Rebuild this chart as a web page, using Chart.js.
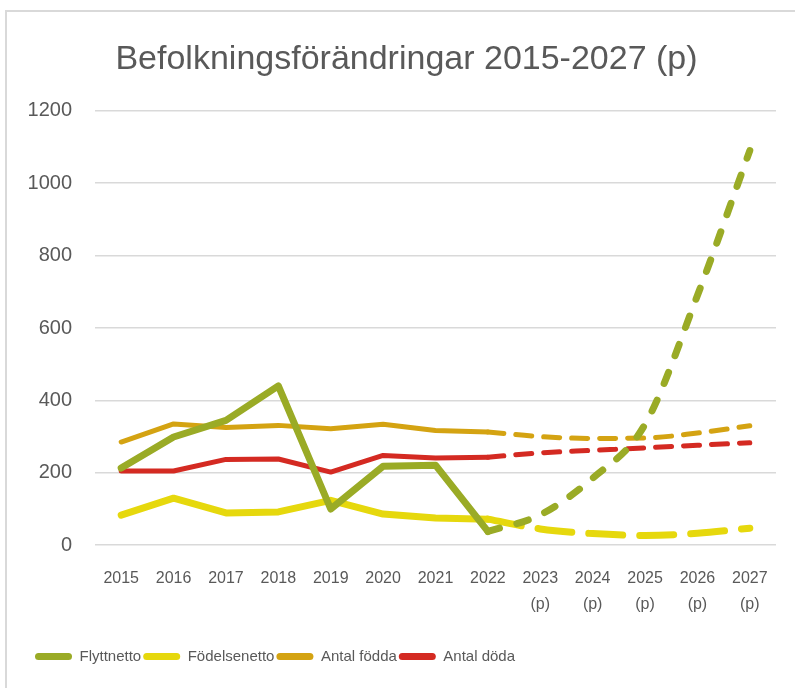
<!DOCTYPE html>
<html>
<head>
<meta charset="utf-8">
<script src="https://cdn.jsdelivr.net/npm/chart.js@4"></script>
<style>
  html, body { margin: 0; padding: 0; background: #fff; overflow: hidden; }
  #ram { position: absolute; left: 5px; top: 10px; width: 800px; height: 700px;
         border-left: 2px solid #d9d9d9; border-top: 2px solid #d9d9d9; }
  #wrap { position: absolute; left: 0; top: 0; width: 795px; height: 688px; }
</style>
</head>
<body>
<div id="ram"></div>
<div id="wrap"><canvas id="befolkning"></canvas></div>
<script>
// Data, prognosår markerade med (p)
var ar = ['2015', '2016', '2017', '2018', '2019', '2020', '2021', '2022',
          ['2023', '(p)'], ['2024', '(p)'], ['2025', '(p)'], ['2026', '(p)'], ['2027', '(p)']];
var flyttnetto   = [213, 299, 345, 440, 100, 218, 221, 38, 84, 185, 334, 690, 1090];
var fodelsenetto = [83, 130, 89, 92, 124, 86, 75, 72, 45, 32, 27, 33, 47];
var antalFodda   = [285, 335, 325, 331, 322, 334, 317, 313, 300, 295, 296, 310, 330];
var antalDoda    = [205, 205, 237, 238, 202, 248, 241, 243, 255, 262, 269, 276, 283];
var sistaUtfall = 7; // index för 2022

var FONT = "'Liberation Sans', Arial, sans-serif";
var GRA = '#595959';

function utfall(v) {
  return v.map(function (x, i) { return i <= sistaUtfall ? x : null; });
}
function prognos(v) {
  return v.map(function (x, i) { return i >= sistaUtfall ? x : null; });
}

var serier = [
  { namn: 'Flyttnetto', data: flyttnetto, farg: '#9aab26', bredd: 7, streck: [12, 18] },
  { namn: 'Födelsenetto', data: fodelsenetto, farg: '#e6d80d', bredd: 7, streck: [34, 17] },
  { namn: 'Antal födda', data: antalFodda, farg: '#d4a312', bredd: 5, streck: [16, 12] },
  { namn: 'Antal döda', data: antalDoda, farg: '#d42a22', bredd: 5, streck: [16, 12] }
];

var datasets = [];
serier.forEach(function (s) {
  datasets.push({
    label: s.namn,
    data: utfall(s.data),
    borderColor: s.farg,
    backgroundColor: s.farg,
    borderWidth: s.bredd,
    borderCapStyle: 'round',
    borderJoinStyle: 'round',
    pointRadius: 0,
    tension: 0
  });
});
serier.forEach(function (s) {
  datasets.push({
    label: s.namn + ' (p)',
    data: prognos(s.data),
    borderColor: s.farg,
    backgroundColor: s.farg,
    borderWidth: s.bredd,
    borderDash: s.streck,
    borderCapStyle: 'round',
    borderJoinStyle: 'round',
    pointRadius: 0,
    cubicInterpolationMode: 'monotone'
  });
});

// flyttar rubrik och förklaring i sidled så att de hamnar som i originalet
var flytta = {
  id: 'flytta',
  afterLayout: function (chart) {
    if (chart.titleBlock) { chart.titleBlock.left += 16; chart.titleBlock.right += 16; }
    if (chart.legend) { chart.legend.left += 28; chart.legend.right += 28; }
  }
};

var ctx = document.getElementById('befolkning').getContext('2d');
var graf = new Chart(ctx, {
  type: 'line',
  data: { labels: ar, datasets: datasets },
  plugins: [flytta],
  options: {
    responsive: true,
    maintainAspectRatio: false,
    animation: false,
    layout: { padding: { left: 5, right: 19, top: 20, bottom: 14 } },
    plugins: {
      title: {
        display: true,
        text: 'Befolkningsförändringar 2015-2027 (p)',
        color: GRA,
        font: { family: FONT, size: 34, weight: 'normal' },
        padding: { top: 19, bottom: 31 }
      },
      legend: {
        position: 'bottom',
        align: 'start',
        labels: {
          generateLabels: function (chart) {
            var lista = Chart.defaults.plugins.legend.labels.generateLabels(chart);
            return lista.filter(function (item) { return item.datasetIndex < 4; })
              .map(function (item) { item.lineWidth = 0; return item; });
          },
          color: GRA,
          font: { family: FONT, size: 15 },
          boxWidth: 37,
          boxHeight: 7,
          useBorderRadius: true,
          borderRadius: 3.5,
          padding: 2
        }
      },
      tooltip: { enabled: false }
    },
    scales: {
      x: {
        offset: true,
        grid: { display: false },
        border: { display: false },
        ticks: { color: GRA, font: { family: FONT, size: 16, lineHeight: 1.65 }, maxRotation: 0, autoSkip: false, padding: 12 },
        afterFit: function (scale) { scale.height += 17; }
      },
      y: {
        min: 0,
        max: 1200,
        ticks: {
          stepSize: 200,
          color: GRA,
          font: { family: FONT, size: 20 },
          padding: 23,
          callback: function (v) { return String(v); }
        },
        grid: { color: '#d9d9d9', lineWidth: 1.5, drawTicks: false },
        border: { display: false },
        afterFit: function (scale) { scale.width = 90; }
      }
    }
  }
});
</script>
</body>
</html>
